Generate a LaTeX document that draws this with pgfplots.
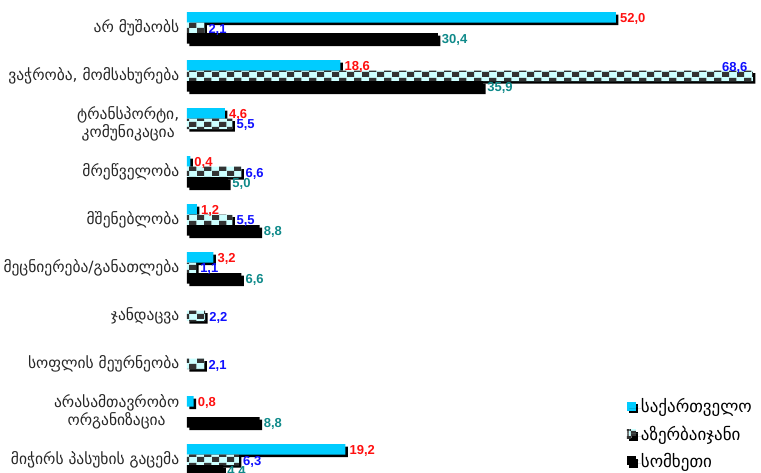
\documentclass[border=0pt]{standalone}
\usepackage{fontspec}
\setmainfont{DejaVu Sans}
\newfontfamily\valfont{Liberation Sans}
\usepackage{pgfplots}
\pgfplotsset{compat=1.18}
\usepackage{pgfplotstable}
\usetikzlibrary{patterns}
\definecolor{geocyan}{HTML}{00CCFF}
\definecolor{chkdark}{HTML}{333333}
\definecolor{chklight}{HTML}{CCFFFF}
\definecolor{lblred}{HTML}{FF1010}
\definecolor{lblblue}{HTML}{1010FF}
\definecolor{lblteal}{HTML}{108A8A}
\pgfdeclarepatternformonly{bigcheck}{\pgfqpoint{0pt}{0pt}}{\pgfqpoint{15.2pt}{10.5pt}}{\pgfqpoint{15.2pt}{10.5pt}}{%
 \pgfpathrectangle{\pgfqpoint{0pt}{0pt}}{\pgfqpoint{7.6pt}{5.25pt}}%
 \pgfpathrectangle{\pgfqpoint{7.6pt}{5.25pt}}{\pgfqpoint{7.6pt}{5.25pt}}%
 \pgfusepath{fill}}

% y = 9 - category index
\pgfplotstableread{
y x
9 52.0
8 18.6
7 4.6
6 0.4
5 1.2
4 3.2
1 0.8
0 19.2
}\geo
\pgfplotstableread{
y x dx dy
9 2.1 0 0
8 68.6 -35 10
7 5.5 0 0
6 6.6 0 0
5 5.5 0 0
4 1.1 0 0
3 2.2 0 0
2 2.1 0 0
0 6.3 0 0
}\aze
\pgfplotstableread{
y x
9 30.4
8 35.9
6 5.0
5 8.8
4 6.6
1 8.8
0 4.4
}\arm

\begin{document}
\begin{tikzpicture}
\path[use as bounding box] (-187pt,0pt) rectangle (574pt,473pt);
\begin{axis}[
  at={(0pt,0pt)}, anchor=south west,
  scale only axis, width=574pt, height=473pt,
  xmin=0, xmax=69.58, ymin=-0.271, ymax=9.583,
  clip=false,
  axis line style={draw=none},
  tick style={draw=none},
  xtick=\empty,
  ytick={0,...,9},
  yticklabels={მიჭირს პასუხის გაცემა,{არასამთავრობო\\ორგანიზაცია},სოფლის მეურნეობა,ჯანდაცვა,მეცნიერება/განათლება,მშენებლობა,მრეწველობა,{ტრანსპორტი,\\კომუნიკაცია},{ვაჭრობა, მომსახურება},არ მუშაობს},
  yticklabel style={align=center, font=\fontsize{15.5}{17.5}\selectfont, text=black!85, xshift=0pt},
  xbar, bar width=10.5pt,
  point meta=x,
  nodes near coords={\pgfmathprintnumber[fixed,fixed zerofill,precision=1,use comma,assume math mode=true]{\pgfplotspointmeta}},
  every node near coord/.append style={font=\valfont\bfseries\fontsize{13}{15}\selectfont, anchor=west, inner sep=1pt, xshift=3pt, yshift=-1.5pt},
  legend style={at={(0.766,0.0)}, anchor=south west, draw=none, fill=none, font=\fontsize{17}{19}\selectfont, row sep=7.5pt, inner sep=0pt, yshift=2pt},
  legend cell align=left,
]
\addplot[draw=none, fill=geocyan, bar shift=10.5pt,
  preaction={fill=black, transform canvas={shift={(2.5pt,-2.5pt)}}},
  every node near coord/.append style={text=lblred},
  legend image code/.code={\fill[geocyan] (0pt,-4.5pt) rectangle (9pt,4.5pt);\path (0pt,0pt) -- (12pt,0pt);}
  ] table[x=x,y=y] {\geo};
\addlegendentry{საქართველო}
\addplot[draw=none, fill=chklight, bar shift=0pt,
  preaction={fill=black, transform canvas={shift={(2.5pt,-2.5pt)}}},
  postaction={pattern=bigcheck, pattern color=chkdark},
  visualization depends on={\thisrow{dx} \as \mydx},
  visualization depends on={\thisrow{dy} \as \mydy},
  every node near coord/.append style={text=lblblue, xshift=\mydx pt, yshift=\mydy pt},
  legend image code/.code={\fill[chkdark!70] (0pt,-4.5pt) rectangle (9pt,4.5pt);\fill[chklight] (2.5pt,-2pt) rectangle (9pt,4.5pt);\path (0pt,0pt) -- (12pt,0pt);}
  ] table[x=x,y=y] {\aze};
\addlegendentry{აზერბაიჯანი}
\addplot[draw=none, fill=black, bar shift=-10.5pt,
  preaction={fill=black, transform canvas={shift={(2.5pt,-2.5pt)}}},
  every node near coord/.append style={text=lblteal},
  legend image code/.code={\fill[black] (0pt,-4.5pt) rectangle (9pt,4.5pt);\path (0pt,0pt) -- (12pt,0pt);}
  ] table[x=x,y=y] {\arm};
\addlegendentry{სომხეთი}
\end{axis}
\end{tikzpicture}
\end{document}
